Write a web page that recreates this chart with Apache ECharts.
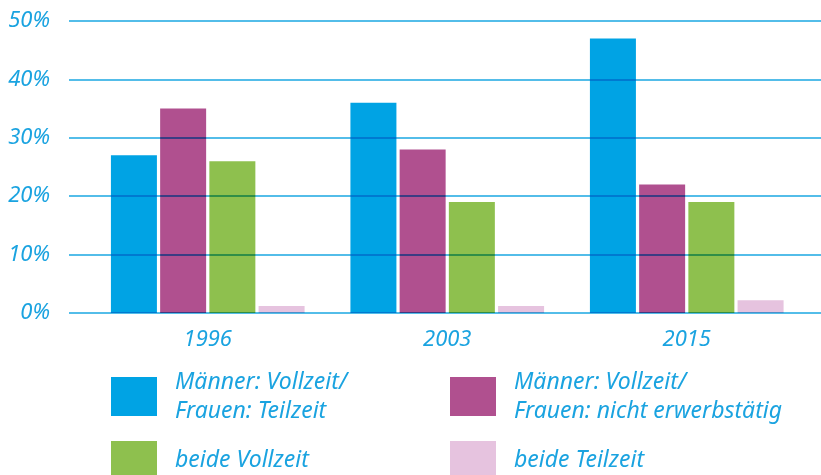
<!DOCTYPE html>
<html>
<head>
<meta charset="utf-8">
<script src="https://cdn.jsdelivr.net/npm/echarts@6/dist/echarts.min.js"></script>
<style>
  html, body { margin: 0; padding: 0; background: #fff; }
  #chart { width: 821px; height: 475px; }
</style>
</head>
<body>
<div id="chart"></div>
<script>
const years = ['1996', '2003', '2015'];
const seriesNames = [
  'Männer: Vollzeit/\nFrauen: Teilzeit',
  'Männer: Vollzeit/\nFrauen: nicht erwerbstätig',
  'beide Vollzeit',
  'beide Teilzeit'
];
const vollTeil = [27, 36, 47];
const vollNicht = [35, 28, 22];
const beideVoll = [26, 19, 19];
const beideTeil = [1.2, 1.2, 2.2];
const colors = ['#00a3e4', '#b0508f', '#8ec04e', '#e6c3df'];

const textBlue = '#1aa3e0';
const font = '"Noto Sans", sans-serif';

const chart = echarts.init(document.getElementById('chart'));
const values = [vollTeil, vollNicht, beideVoll, beideTeil];

const legendText = {
  width: 270,
  color: textBlue,
  fontSize: 23,
  lineHeight: 29,
  fontStyle: 'italic',
  fontFamily: font,
  padding: [0, 0, 0, 13]
};

chart.setOption({
  animation: false,
  grid: [
    { left: 69, right: 0, top: 21, bottom: 162 },
    { left: 88, right: 14.5, top: 21, bottom: 162 }
  ],
  xAxis: [
    { gridIndex: 0, type: 'category', data: [''], show: false },
    {
      gridIndex: 1,
      type: 'category',
      data: years,
      axisLine: { show: false },
      axisTick: { show: false },
      axisLabel: {
        margin: 16,
        color: textBlue,
        fontSize: 22,
        fontStyle: 'italic',
        fontFamily: font
      }
    }
  ],
  yAxis: [
    {
      gridIndex: 0,
      type: 'value',
      zlevel: 1,
      min: 0,
      max: 50,
      interval: 10,
      axisLine: { show: false },
      axisTick: { show: false },
      axisLabel: {
        margin: 19,
        formatter: '{value}%',
        color: textBlue,
        fontSize: 22,
        fontStyle: 'italic',
        fontFamily: font
      },
      splitLine: { lineStyle: { color: '#1aa7e2', width: 1.5 } }
    },
    {
      gridIndex: 1,
      type: 'value',
      min: 0,
      max: 50,
      show: false
    }
  ],
  legend: [
    {
      // two-line labels make the item taller than the square, so start higher
      data: seriesNames.slice(0, 2),
      left: 111,
      top: 367.5,
      padding: 0,
      itemWidth: 46,
      itemHeight: 39,
      itemGap: 5,
      icon: 'rect',
      textStyle: legendText
    },
    {
      data: seriesNames.slice(2, 4),
      left: 111,
      top: 441,
      padding: 0,
      itemWidth: 46,
      itemHeight: 39,
      itemGap: 5,
      icon: 'rect',
      textStyle: legendText
    }
  ],
  series: seriesNames.map((name, i) => ({
    name: name,
    type: 'bar',
    xAxisIndex: 1,
    yAxisIndex: 1,
    data: values[i],
    barWidth: 46,
    barGap: '7%',
    itemStyle: { color: colors[i] }
  }))
});

// grid lines sit on their own layer and multiply over the bars
const canvases = chart.getDom().querySelectorAll('canvas');
for (let i = 1; i < canvases.length; i++) {
  canvases[i].style.mixBlendMode = 'multiply';
}
</script>
</body>
</html>
